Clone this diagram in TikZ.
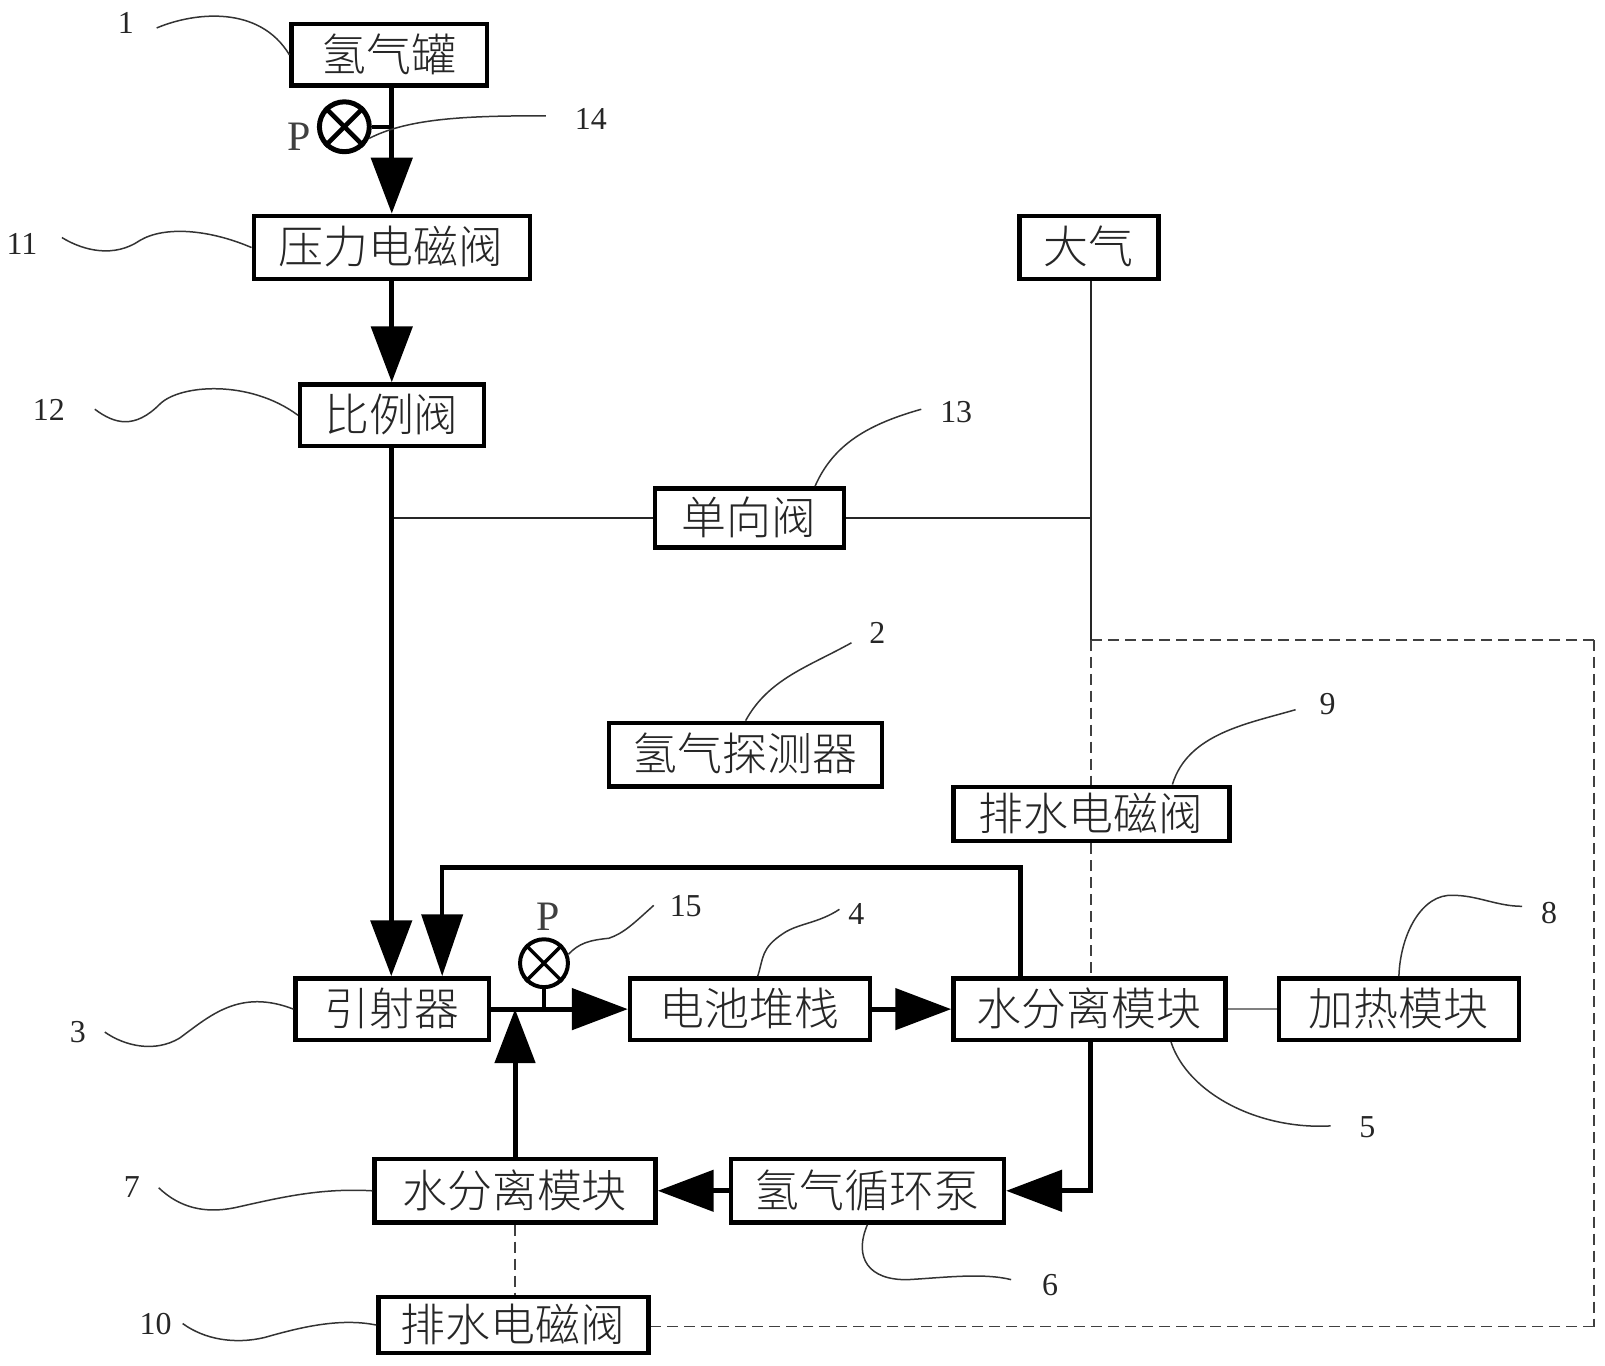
\documentclass[tikz,border=0pt]{standalone}
\usepackage{fontspec}
\setmainfont{Liberation Serif}
\newfontfamily\cjk{Noto Sans CJK SC}[UprightFont=* Light]
\usetikzlibrary{arrows.meta}
\tikzset{
  x=1pt,y=-1pt,
  boxn/.style={draw=black,line width=4.5pt,fill=white,rectangle,inner sep=0pt,font=\cjk\fontsize{45}{45}\selectfont,text=black!85},
  num/.style={font=\fontsize{32}{32}\selectfont,inner sep=0pt,text=black!85},
  pmark/.style={font=\fontsize{42}{42}\selectfont,inner sep=0pt,text=black!75},
  flow/.style={line width=5pt,draw=black,-{Triangle[length=56pt,width=41pt]}},
  flowb/.style={line width=4.5pt,draw=black},
  thinl/.style={line width=1.8pt,draw=black!85},
  dashl/.style={line width=1.8pt,draw=black!75,dash pattern=on 11pt off 6pt},
  grayl/.style={line width=2.4pt,draw=black!50},
  leader/.style={line width=1.5pt,draw=black!80},
  gauge/.style={circle,draw=black,line width=5pt,fill=white,inner sep=0pt,minimum size=50pt},
  gaugeb/.style={circle,draw=black,line width=4pt,fill=white,inner sep=0pt,minimum size=48pt}
}
% name, x1, x2, y1, y2, text
\newcommand{\boxat}[6]{%
  \pgfmathsetlengthmacro{\bw}{#3-#2-2.5}%
  \pgfmathsetlengthmacro{\bh}{#5-#4-2.5}%
  \node[boxn,minimum width=\bw,minimum height=\bh] (#1) at ({(#2+#3)/2},{(#4+#5)/2}) {\raisebox{5pt}{\hspace{-1pt}#6}};}
\begin{document}
\begin{tikzpicture}
\useasboundingbox (0,0) rectangle (1608,1368);
\fill[white] (0,0) rectangle (1608,1368);
% free-end coordinates
\coordinate (jA) at (1093,519);
\coordinate (jB) at (392,519);
\coordinate (dashTop) at (1093,641);
\coordinate (dashRight) at (1597,641);
\coordinate (dashLow) at (1597,1329);
\coordinate (loopR) at (1022.5,869);
\coordinate (loopL) at (443,869);
\coordinate (sepX) at (1093,1193);
% dashed lines beneath the boxes
\draw[dashl] (dashTop) -- (jA |- 979,979);
\draw[dashl] (dashRight) -- (dashTop);
\draw[dashl] (dashRight) -- (dashLow);
\boxat{b1}{291}{489}{23}{87}{氢气罐}
\boxat{b11}{253}{532}{215}{281}{压力电磁阀}
\boxat{b12}{299.5}{486}{384}{448}{比例阀}
\boxat{b13}{655}{847}{488}{550}{单向阀}
\boxat{bAtm}{1020}{1162}{215}{281}{大气}
\boxat{b2}{609}{885}{723}{789}{氢气探测器}
\boxat{b9}{954}{1233}{787}{844}{排水电磁阀}
\boxat{b3}{295}{491}{979}{1043}{引射器}
\boxat{b4}{630}{873}{979}{1043}{电池堆栈}
\boxat{b5}{954}{1229}{979}{1043}{水分离模块}
\boxat{b8}{1280}{1523}{979}{1043}{加热模块}
\boxat{b7}{374}{658}{1160}{1226}{水分离模块}
\boxat{b6}{731}{1007}{1160}{1226}{氢气循环泵}
\boxat{b10}{378}{651}{1298}{1357}{排水电磁阀}
% dashed
\draw[dashl] (dashLow) -- (b10.east |- dashLow);
\draw[dashl] (b7.south) -- (b7.south |- b10.north);
% thin
\draw[thinl] (jB) -- (b13.west);
\draw[thinl] (b13.east) -- (jA);
\draw[thinl] (jA |- bAtm.south) -- (dashTop);
\draw[grayl] (b5.east) -- (b8.west);
% flows
\draw[flow] (b11.north |- b1.south) -- (b11.north);
\draw[flow] (b11.south) -- (b12.north -| b11.south);
\draw[flow] (jB |- b12.south) -- (jB |- b3.north);
\draw[flowb,-{Triangle[length=62pt,width=41pt]}] (loopR |- b5.north) -- (loopR) -- (loopL) -- (loopL |- b3.north);
\draw[flow] (b3.east) -- (b4.west);
\draw[flow] (b4.east) -- (b5.west);
\draw[flow] (sepX |- b5.south) -- (sepX) -- (b6.east);
\draw[flow] (b6.west) -- (b7.east);
\draw[flow,-{Triangle[length=54pt,width=40pt]}] (b7.north) -- (b7.north |- b3.east);
% gauges
\node[gauge] (g14) at (345,127) {};
\draw[line width=4.5pt] (g14.east) -- (g14.east -| jB);
\draw[line width=4.5pt] (g14.45) -- (g14.225);
\draw[line width=4.5pt] (g14.135) -- (g14.315);
\node[gaugeb] (g15) at (545,965) {};
\draw[line width=4pt] (g15.south) -- (g15.south |- b3.east);
\draw[line width=3.5pt] (g15.45) -- (g15.225);
\draw[line width=3.5pt] (g15.135) -- (g15.315);
\node[pmark] (p14) at (300,137) {P};
\node[pmark] (p15) at (549,918) {P};
% reference numbers
\node[num] (n1) at (126,23) {1};
\node[num] (n14) at (592,119) {14};
\node[num] (n11) at (22,244) {11};
\node[num] (n12) at (49,411) {12};
\node[num] (n13) at (958,413) {13};
\node[num] (n2) at (879,634) {2};
\node[num] (n9) at (1330,705) {9};
\node[num] (n8) at (1552,915) {8};
\node[num] (n4) at (858,916) {4};
\node[num] (n15) at (687,908) {15};
\node[num] (n3) at (78,1034) {3};
\node[num] (n5) at (1370,1129) {5};
\node[num] (n7) at (132,1189) {7};
\node[num] (n6) at (1052,1287) {6};
\node[num] (n10) at (156,1326) {10};
% leader free ends
\coordinate (l1) at (157,28);
\coordinate (l14) at (547,116);
\coordinate (l11) at (62,238);
\coordinate (l12) at (95,410);
\coordinate (l13) at (923,410);
\coordinate (l2) at (853,644);
\coordinate (l9) at (1298,711);
\coordinate (l8) at (1525,908);
\coordinate (l4) at (841,911);
\coordinate (l15) at (655,907);
\coordinate (l3) at (105,1034);
\coordinate (l5) at (1333,1128);
\coordinate (l7) at (159,1190);
\coordinate (l6) at (1013,1282);
\coordinate (l10) at (183,1326);
% leaders
\draw[leader] (l1) .. controls (195,12) and (260,5) .. (b1.west);
\draw[leader] (l14) .. controls (470,116) and (410,118) .. (g14.-25);
\draw[leader] (l11) .. controls (85,252) and (115,258) .. (140,241) .. controls (165,226) and (210,230) .. (b11.west);
\draw[leader] (l12) .. controls (115,425) and (135,430) .. (160,405) .. controls (180,385) and (250,380) .. (b12.west);
\draw[leader] (l13) .. controls (870,425) and (835,445) .. (b13.26);
\draw[leader] (l2) .. controls (810,668) and (770,680) .. (b2.north);
\draw[leader] (l9) .. controls (1250,725) and (1190,735) .. (b9.20);
\draw[leader] (l8) .. controls (1500,908) and (1480,897) .. (1456,897) .. controls (1425,895) and (1403,935) .. (b8.north);
\draw[leader] (l5) .. controls (1260,1132) and (1190,1095) .. (b5.-22);
\draw[leader] (l4) .. controls (820,925) and (800,925) .. (785,935) .. controls (762,950) and (765,960) .. (b4.77);
\draw[leader] (l15) .. controls (635,925) and (625,935) .. (610,940) .. controls (590,942) and (580,945) .. (g15.20);
\draw[leader] (l3) .. controls (125,1048) and (155,1055) .. (180,1040) .. controls (210,1018) and (240,990) .. (b3.west);
\draw[leader] (l7) .. controls (180,1210) and (205,1216) .. (235,1210) .. controls (280,1200) and (320,1190) .. (b7.west);
\draw[leader] (l10) .. controls (205,1342) and (235,1347) .. (265,1340) .. controls (300,1330) and (340,1320) .. (b10.west);
\draw[leader] (b6.south) .. controls (855,1260) and (870,1283) .. (910,1282) .. controls (945,1280) and (985,1275) .. (l6);
\end{tikzpicture}
\end{document}
